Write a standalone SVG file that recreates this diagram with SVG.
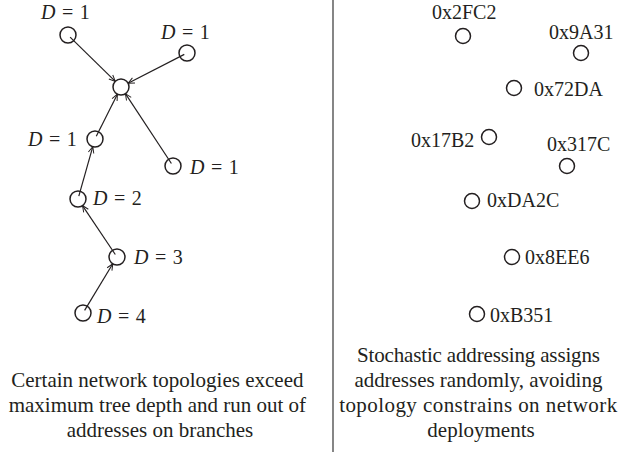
<svg xmlns="http://www.w3.org/2000/svg" width="622" height="457" viewBox="0 0 622 457">
  <style>
    .node { fill: none; stroke: #231f20; stroke-width: 1.5; }
    .edge { fill: none; stroke: #231f20; stroke-width: 1.2; marker-end: url(#open-arrow); }
    .lbl { font-family: 'Liberation Serif', 'DejaVu Serif', serif; font-size: 20px; fill: #231f20; }
    .d { font-style: italic; }
    .cap { font-family: 'Liberation Serif', 'DejaVu Serif', serif; font-size: 21px; fill: #231f20; text-anchor: middle; }
  </style>
  <defs>
    <marker id="open-arrow" viewBox="0 0 10 10" refX="10" refY="5" markerWidth="7" markerHeight="8" markerUnits="userSpaceOnUse" orient="auto">
      <path d="M1,1 L10,5 L1,9" fill="none" stroke="#231f20" stroke-width="1.4"/>
    </marker>
  </defs>

  <rect width="622" height="457" fill="#ffffff"/>

  <!-- tree addressing: connectors -->
  <g id="connectors">
    <line class="edge" x1="70.1" y1="37.1" x2="115.3" y2="81.4"/>
    <line class="edge" x1="184.3" y1="54.4" x2="128.1" y2="83.3"/>
    <line class="edge" x1="96.3" y1="136.3" x2="117.4" y2="94.2"/>
    <line class="edge" x1="171.4" y1="163.5" x2="125.4" y2="93.7"/>
    <line class="edge" x1="78.8" y1="196.1" x2="92.8" y2="146.7"/>
    <line class="edge" x1="115.3" y1="254.5" x2="82.5" y2="205.6"/>
    <line class="edge" x1="84.6" y1="310.4" x2="112.8" y2="263.8"/>
  </g>

  <!-- tree addressing: nodes -->
  <g id="coordinator"><circle class="node" cx="121" cy="87" r="8"/></g>
  <g id="t1"><circle class="node" cx="68" cy="35" r="8"/>
    <text class="lbl" x="41" y="19" word-spacing="1.5"><tspan class="d">D</tspan> = 1</text></g>
  <g id="t2"><circle class="node" cx="187" cy="53" r="8"/>
    <text class="lbl" x="161" y="39" word-spacing="1.5"><tspan class="d">D</tspan> = 1</text></g>
  <g id="t3"><circle class="node" cx="95" cy="139" r="8"/>
    <text class="lbl" x="28" y="146" word-spacing="1.5"><tspan class="d">D</tspan> = 1</text></g>
  <g id="t4"><circle class="node" cx="173" cy="166" r="8"/>
    <text class="lbl" x="190" y="174" word-spacing="1.5"><tspan class="d">D</tspan> = 1</text></g>
  <g id="t5"><circle class="node" cx="78" cy="199" r="8"/>
    <text class="lbl" x="93" y="205" word-spacing="1.5"><tspan class="d">D</tspan> = 2</text></g>
  <g id="t6"><circle class="node" cx="117" cy="257" r="8"/>
    <text class="lbl" x="134" y="264" word-spacing="1.5"><tspan class="d">D</tspan> = 3</text></g>
  <g id="t7"><circle class="node" cx="83" cy="313" r="8"/>
    <text class="lbl" x="97" y="323" word-spacing="1.5"><tspan class="d">D</tspan> = 4</text></g>

  <!-- stochastic addressing: nodes -->
  <g id="s1"><circle class="node" cx="463" cy="36" r="7.5"/><text class="lbl" x="432" y="19">0x2FC2</text></g>
  <g id="s2"><circle class="node" cx="581" cy="53" r="7.5"/><text class="lbl" x="549" y="39">0x9A31</text></g>
  <g id="s3"><circle class="node" cx="514" cy="88" r="7.5"/><text class="lbl" x="534" y="96">0x72DA</text></g>
  <g id="s4"><circle class="node" cx="489" cy="137" r="7.5"/><text class="lbl" x="411" y="147">0x17B2</text></g>
  <g id="s5"><circle class="node" cx="567" cy="166" r="7.5"/><text class="lbl" x="547" y="151">0x317C</text></g>
  <g id="s6"><circle class="node" cx="472" cy="201" r="7.5"/><text class="lbl" x="487" y="207">0xDA2C</text></g>
  <g id="s7"><circle class="node" cx="512" cy="257" r="7.5"/><text class="lbl" x="525" y="264">0x8EE6</text></g>
  <g id="s8"><circle class="node" cx="477" cy="314" r="7.5"/><text class="lbl" x="490" y="322">0xB351</text></g>

  <!-- divider -->
  <line x1="333" y1="0" x2="333" y2="452" stroke="#444" stroke-width="1.3"/>

  <!-- captions -->
  <text class="cap" x="160">
    <tspan x="160" y="387">Certain network topologies exceed</tspan>
    <tspan x="160" y="412">maximum tree depth and run out of</tspan>
    <tspan x="160" y="437">addresses on branches</tspan>
  </text>
  <text class="cap" x="481">
    <tspan x="481" y="362" textLength="243" lengthAdjust="spacing">Stochastic addressing assigns</tspan>
    <tspan x="481" y="387" textLength="248" lengthAdjust="spacing">addresses randomly, avoiding</tspan>
    <tspan x="481" y="412" textLength="278" lengthAdjust="spacing">topology constrains on network</tspan>
    <tspan x="481" y="437">deployments</tspan>
  </text>
</svg>
